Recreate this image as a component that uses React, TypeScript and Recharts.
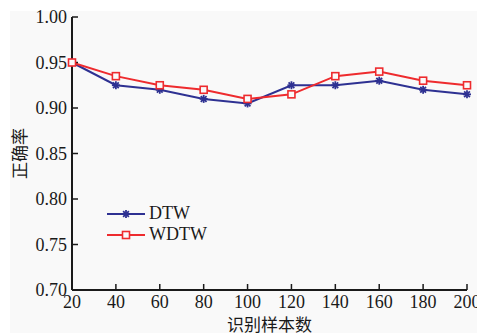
import React from 'react';
import { LineChart, Line, XAxis, YAxis, Legend } from 'recharts';

const sampleCounts = [20, 40, 60, 80, 100, 120, 140, 160, 180, 200];
const dtwRates = [0.95, 0.925, 0.92, 0.91, 0.905, 0.925, 0.925, 0.93, 0.92, 0.915];
const wdtwRates = [0.95, 0.935, 0.925, 0.92, 0.91, 0.915, 0.935, 0.94, 0.93, 0.925];
const yTicks = [0.7, 0.75, 0.8, 0.85, 0.9, 0.95, 1.0];
const seriesNames = ['DTW', 'WDTW'];

const data = sampleCounts.map((n, i) => ({ n, DTW: dtwRates[i], WDTW: wdtwRates[i] }));

const BLUE = '#2e3192';
const RED = '#ee2b2e';
const INK = '#1a1a1a';
const SERIF = "'Liberation Serif', 'Times New Roman', serif";
const CJK = "'Noto Sans CJK SC', sans-serif";

const Star = ({ cx, cy }: { cx: number; cy: number }) => {
  const r = 4;
  const d = r * 0.72;
  return (
    <g stroke={BLUE} strokeWidth={1.8}>
      <line x1={cx - r} y1={cy} x2={cx + r} y2={cy} />
      <line x1={cx} y1={cy - r} x2={cx} y2={cy + r} />
      <line x1={cx - d} y1={cy - d} x2={cx + d} y2={cy + d} />
      <line x1={cx - d} y1={cy + d} x2={cx + d} y2={cy - d} />
    </g>
  );
};

const Box = ({ cx, cy }: { cx: number; cy: number }) => (
  <rect x={cx - 3.5} y={cy - 3.5} width={7} height={7} fill="#fafafa" stroke={RED} strokeWidth={1.6} />
);

const YLabel = (props: any) => {
  const vb = props.viewBox;
  const cx = 18;
  const cy = vb.y + vb.height / 2;
  return (
    <text x={cx} y={cy} transform={`rotate(-90 ${cx} ${cy})`} textAnchor="middle" dominantBaseline="central"
      fontFamily={CJK} fontSize={17} fill={INK}>
      正确率
    </text>
  );
};

const XLabel = (props: any) => {
  const vb = props.viewBox;
  return (
    <text x={vb.x + vb.width / 2} y={331} textAnchor="middle" fontFamily={CJK} fontSize={17} fill={INK}>
      识别样本数
    </text>
  );
};

const LegendBox = () => (
  <div style={{ fontFamily: SERIF, fontSize: 18, color: INK }}>
    {seriesNames.map((name, i) => (
      <div key={name} style={{ display: 'flex', alignItems: 'center', height: 21 }}>
        <svg width={40} height={12}>
          <line x1={0} y1={6} x2={38} y2={6} stroke={i === 0 ? BLUE : RED} strokeWidth={2} />
          {i === 0 ? <Star cx={19} cy={6} /> : <Box cx={19} cy={6} />}
        </svg>
        <span style={{ marginLeft: 2 }}>{name}</span>
      </div>
    ))}
  </div>
);

export default function App() {
  const tickStyle = { fontFamily: SERIF, fontSize: 18, fill: INK };
  return (
    <div style={{ position: 'absolute', left: 0, top: 0, width: 477, height: 333, background: '#fff' }}>
      <div style={{ position: 'absolute', left: 10, top: 11, right: 0, bottom: 0, background: '#f9f9f9' }} />
      <LineChart width={477} height={333} data={data} margin={{ top: 17, right: 10, bottom: 13, left: 0 }}
        style={{ position: 'absolute', left: 0, top: 0 }}>
        <XAxis dataKey="n" type="number" domain={[20, 200]} ticks={sampleCounts} interval={0} height={30}
          tick={tickStyle} tickSize={-6} tickMargin={11}
          axisLine={{ stroke: INK, strokeWidth: 2 }} tickLine={{ stroke: INK, strokeWidth: 1.5 }}
          label={<XLabel />} />
        <YAxis type="number" domain={[0.7, 1.0]} ticks={yTicks} interval={0} width={72}
          tick={tickStyle} tickSize={-6} tickMargin={11} tickFormatter={(v: number) => v.toFixed(2)}
          axisLine={{ stroke: INK, strokeWidth: 2 }} tickLine={{ stroke: INK, strokeWidth: 1.5 }}
          label={<YLabel />} />
        <Line dataKey="DTW" stroke={BLUE} strokeWidth={2} isAnimationActive={false}
          dot={(p: any) => <Star key={`s${p.index}`} cx={p.cx} cy={p.cy} />} activeDot={false} />
        <Line dataKey="WDTW" stroke={RED} strokeWidth={2} isAnimationActive={false}
          dot={(p: any) => <Box key={`b${p.index}`} cx={p.cx} cy={p.cy} />} activeDot={false} />
        <Legend layout="vertical" verticalAlign="middle" align="center" content={<LegendBox />}
          wrapperStyle={{ position: 'absolute', left: 107, top: 203, width: 'auto' }} />
      </LineChart>
    </div>
  );
}
